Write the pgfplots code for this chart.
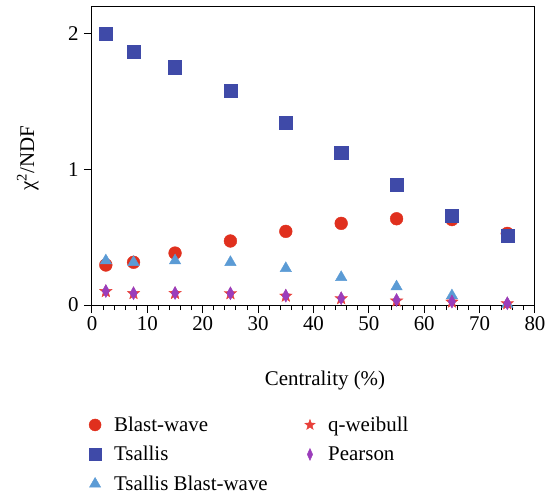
\documentclass[border=0pt]{standalone}
\usepackage{fontspec}
\setmainfont{Liberation Serif}
\usepackage{pgfplots}
\pgfplotsset{compat=1.18}
\definecolor{cBW}{HTML}{E0301E}
\definecolor{cTS}{HTML}{3F4AA8}
\definecolor{cTBW}{HTML}{5B9BD5}
\definecolor{cQW}{HTML}{E8403A}
\definecolor{cPE}{HTML}{9B3DBB}
\pgfdeclareplotmark{fstar}{%
  \pgfpathmoveto{\pgfpointpolar{90}{\pgfplotmarksize}}%
  \pgfpathlineto{\pgfpointpolar{126}{0.42\pgfplotmarksize}}%
  \pgfpathlineto{\pgfpointpolar{162}{\pgfplotmarksize}}%
  \pgfpathlineto{\pgfpointpolar{198}{0.42\pgfplotmarksize}}%
  \pgfpathlineto{\pgfpointpolar{234}{\pgfplotmarksize}}%
  \pgfpathlineto{\pgfpointpolar{270}{0.42\pgfplotmarksize}}%
  \pgfpathlineto{\pgfpointpolar{306}{\pgfplotmarksize}}%
  \pgfpathlineto{\pgfpointpolar{342}{0.42\pgfplotmarksize}}%
  \pgfpathlineto{\pgfpointpolar{18}{\pgfplotmarksize}}%
  \pgfpathlineto{\pgfpointpolar{54}{0.42\pgfplotmarksize}}%
  \pgfpathclose
  \pgfusepathqfillstroke
}
\begin{document}
\begin{tikzpicture}[font=\fontsize{21}{24}\selectfont]
\path[use as bounding box] (-92bp,-195bp) rectangle (453bp,305bp);
\begin{axis}[
  width=443bp, height=299bp, scale only axis,
  xmin=0, xmax=80, ymin=0, ymax=2.205,
  xtick={0,10,...,80}, ytick={0,1,2},
  minor x tick num=4,
  tick align=outside, tick pos=left,
  major tick length=8bp, minor tick length=5bp,
  axis line style={line width=1bp},
  tick style={black, line width=1bp},
  /pgf/number format/assume math mode=true,
  tick label style={font=\fontsize{21}{24}\selectfont},
  yticklabel style={xshift=-2bp},
  xlabel={Centrality (\%)},
  ylabel={χ\textsuperscript{2}/NDF},
  xlabel style={at={(axis description cs:0.526,-0.251)}, anchor=center},
  ylabel style={at={(axis description cs:-0.145,0.49)}, anchor=center},
  legend columns=2,
  legend cell align=left,
  legend style={at={(axis description cs:-0.007,-0.367)}, anchor=north west,
    draw=none, fill=none, inner sep=0pt, row sep=9.5bp,
    /tikz/every odd column/.append style={column sep=11bp},
    /tikz/every even column/.append style={column sep=35bp}},
]
% Blast-wave
\addplot[only marks, mark=*, color=cBW, mark size=6.4bp, forget plot] coordinates {
(2.5,0.295) (7.5,0.315) (15,0.383) (25,0.472) (35,0.543) (45,0.602) (55,0.636) (65,0.630) (75,0.528)};
% Tsallis
\addplot[only marks, mark=square*, color=cTS, mark size=6.6bp, forget plot] coordinates {
(2.5,2.0) (7.5,1.87) (15,1.754) (25,1.58) (35,1.346) (45,1.123) (55,0.889) (65,0.656) (75,0.511)};
% Tsallis Blast-wave
\addplot[only marks, mark=triangle*, color=cTBW, mark size=6.6bp, forget plot] coordinates {
(2.5,0.327) (7.5,0.315) (15,0.327) (25,0.315) (35,0.27) (45,0.204) (55,0.135) (65,0.069) (75,0.007)};
% q-weibull
\addplot[only marks, mark=fstar, color=cQW, mark size=6.5bp, forget plot] coordinates {
(2.5,0.100) (7.5,0.085) (15,0.086) (25,0.084) (35,0.066) (45,0.047) (55,0.030) (65,0.022) (75,0.010)};
% Pearson
\addplot[only marks, mark=diamond*, color=cPE, mark size=6.5bp, mark options={xscale=0.75}, forget plot] coordinates {
(2.5,0.103) (7.5,0.087) (15,0.088) (25,0.086) (35,0.069) (45,0.050) (55,0.037) (65,0.025) (75,0.013)};
\addlegendimage{only marks, mark=*, color=cBW, mark size=6bp}
\addlegendentry{Blast-wave}
\addlegendimage{only marks, mark=fstar, color=cQW, mark size=5.5bp}
\addlegendentry{q-weibull}
\addlegendimage{only marks, mark=square*, color=cTS, mark size=6bp}
\addlegendentry{Tsallis}
\addlegendimage{only marks, mark=diamond*, color=cPE, mark size=6bp, mark options={xscale=0.6}}
\addlegendentry{Pearson}
\addlegendimage{only marks, mark=triangle*, color=cTBW, mark size=6.5bp}
\addlegendentry{Tsallis Blast-wave}
\end{axis}
\end{tikzpicture}
\end{document}
